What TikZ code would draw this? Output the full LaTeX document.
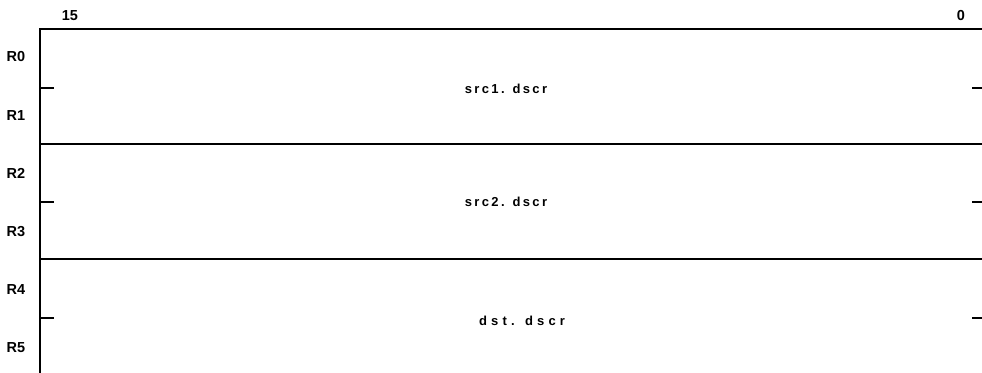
\documentclass[tikz,border=0pt]{standalone}
\usepackage{fontspec}
\setmainfont{Liberation Sans}
\begin{document}
\begin{tikzpicture}[x=1pt,y=-1pt,
  frame/.style={line width=2.4pt,line cap=rect},
  divider/.style={line width=1.8pt},
  tick/.style={line width=1.8pt},
  reglabel/.style={font=\fontsize{14.5}{14.5}\selectfont\bfseries,inner sep=0pt},
  fieldlabel/.style={font=\fontsize{13}{13}\selectfont\bfseries\addfontfeature{LetterSpace=18},inner sep=0pt},
  widelabel/.style={font=\fontsize{13}{13}\selectfont\bfseries\addfontfeature{LetterSpace=32},inner sep=0pt}]
\useasboundingbox (0,0) rectangle (982,372);
% frame
\coordinate (tl) at (40,29);
\coordinate (tr) at (982,29);
\coordinate (bl) at (40,372);
\draw[frame] (tr) -- (tl) -- (bl);
% dividers
\coordinate (d1l) at (40,144);
\coordinate (d1r) at (982,144);
\coordinate (d2l) at (40,259);
\coordinate (d2r) at (982,259);
\draw[divider] (d1l) -- (d1r);
\draw[divider] (d2l) -- (d2r);
% ticks
\foreach \y/\n in {88/a,202/b,318/c}{
  \coordinate (lt\n) at (40,\y);
  \coordinate (lte\n) at (54,\y);
  \draw[tick] (lt\n) -- (lte\n);
  \coordinate (rt\n) at (972,\y);
  \coordinate (rte\n) at (982,\y);
  \draw[tick] (rt\n) -- (rte\n);
}
% bit numbers
\node[reglabel] (b15) at (70,16) {15};
\node[reglabel] (b0) at (961,16) {0};
% register labels
\node[reglabel] (r0) at (16,57) {R0};
\node[reglabel] (r1) at (16,116) {R1};
\node[reglabel] (r2) at (16,173) {R2};
\node[reglabel] (r3) at (16,232) {R3};
\node[reglabel] (r4) at (16,290) {R4};
\node[reglabel] (r5) at (16,348) {R5};
% field labels
\node[fieldlabel] (f1) at (506,89) {src1. dscr};
\node[fieldlabel] (f2) at (506,202) {src2. dscr};
\node[widelabel] (f3) at (522,321) {dst. dscr};
\end{tikzpicture}
\end{document}
